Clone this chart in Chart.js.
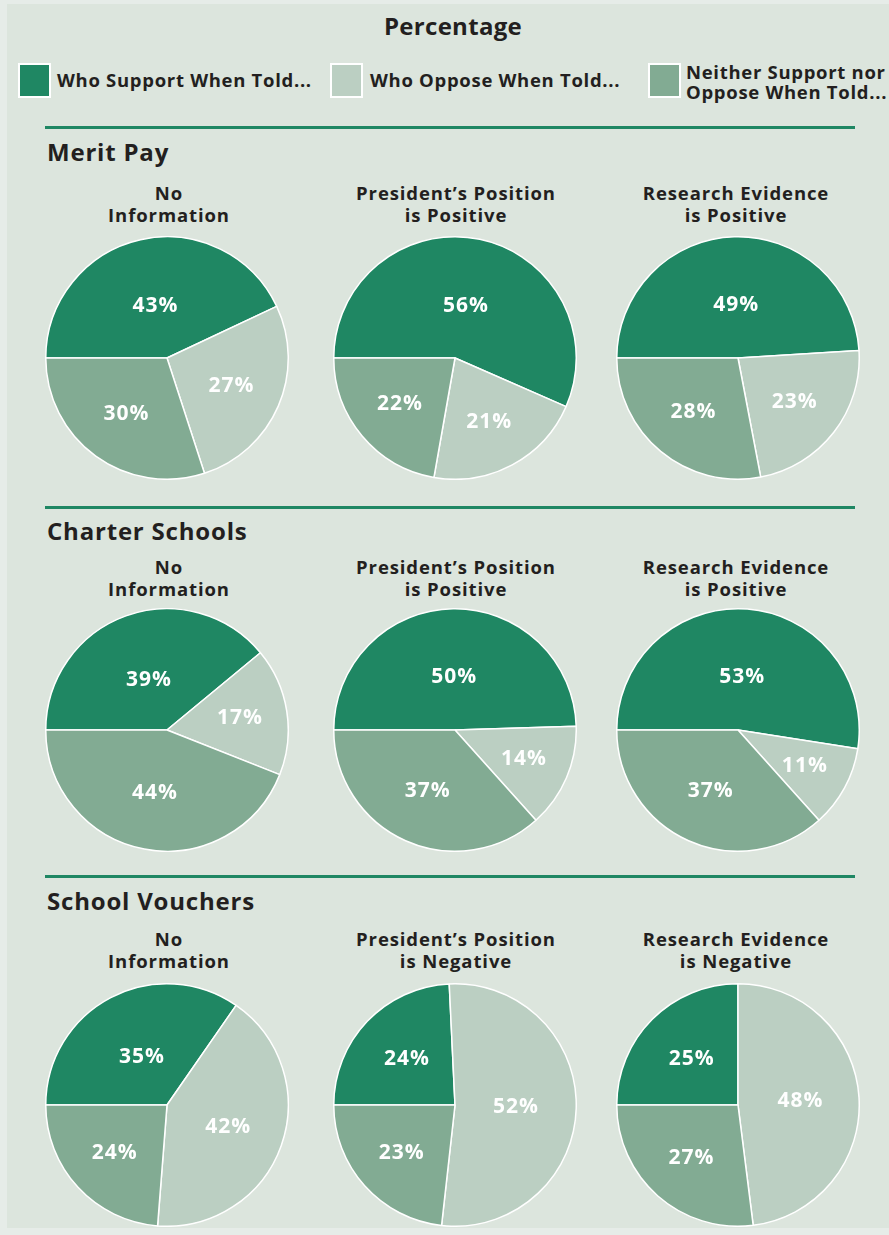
<!DOCTYPE html>
<html>
<head>
<meta charset="utf-8">
<script src="https://cdn.jsdelivr.net/npm/chart.js@4.4.1/dist/chart.umd.min.js"></script>
<style>
  html, body { margin: 0; padding: 0; }
  body { width: 889px; height: 1235px; background: #e6ece8; position: relative; overflow: hidden;
         font-family: "Open Sans", Roboto, sans-serif; color: #231f20; }
  #panel { position: absolute; left: 7px; top: 4px; width: 882px; height: 1224px; background: #dce5dd; }
  .abs { position: absolute; }
  .title { left: 0; width: 906px; text-align: center; font-weight: 700; font-size: 24px; line-height: 28px; top: 12px; letter-spacing: 0.3px; }
  .swatch { width: 29px; height: 31px; border: 2px solid #fff; }
  .legtext { font-weight: 700; font-size: 18.5px; line-height: 20px; white-space: pre; letter-spacing: 0.7px; }
  .rule { left: 45px; width: 810px; height: 3px; background: #1f8763; }
  .section { left: 47px; font-weight: 700; font-size: 24px; line-height: 28px; white-space: nowrap; letter-spacing: 0.8px; }
  .pietitle { width: 300px; text-align: center; font-weight: 700; font-size: 18.5px; line-height: 21.5px; white-space: pre; letter-spacing: 0.9px; }
</style>
</head>
<body>
<div id="panel"></div>
<script>
(() => {
  // ===== Data =====
  const seriesNames = ['Who Support When Told...', 'Who Oppose When Told...', 'Neither Support nor\nOppose When Told...'];
  const sectionNames = ['Merit Pay', 'Charter Schools', 'School Vouchers'];
  const meritTitles = ['No\nInformation', 'President\u2019s Position\nis Positive', 'Research Evidence\nis Positive'];
  const charterTitles = ['No\nInformation', 'President\u2019s Position\nis Positive', 'Research Evidence\nis Positive'];
  const voucherTitles = ['No\nInformation', 'President\u2019s Position\nis Negative', 'Research Evidence\nis Negative'];

  // support / oppose / neither, per pie (No info, President, Research)
  const meritSupport = [43, 56, 49];
  const meritOppose = [27, 21, 23];
  const meritNeither = [30, 22, 28];
  const charterSupport = [39, 50, 53];
  const charterOppose = [17, 14, 11];
  const charterNeither = [44, 37, 37];
  const voucherSupport = [35, 24, 25];
  const voucherOppose = [42, 52, 48];
  const voucherNeither = [24, 23, 27];

  const COLORS = ['#1f8763', '#bbcfc2', '#82ab93'];

  // ===== Layout =====
  const colX = [167, 455, 738];
  const rowY = [357.5, 730, 1105];
  const ruleY = [126, 506, 875];
  const sectionY = [138, 517, 887];
  const pieTitleY = [182, 556, 928];
  const titleX = [169, 456, 736];
  const R = 122;

  const body = document.body;
  const el = (cls, css, text) => {
    const d = document.createElement('div');
    d.className = 'abs ' + cls;
    Object.assign(d.style, css);
    if (text != null) d.textContent = text;
    body.appendChild(d);
    return d;
  };

  el('title', {}, 'Percentage');

  // legend
  const legX = [18, 330, 648];
  const legTextX = [57, 370, 686];
  seriesNames.forEach((name, i) => {
    el('swatch', { left: legX[i] + 'px', top: '63px', background: COLORS[i] });
    const two = name.includes('\n');
    el('legtext', { left: legTextX[i] + 'px', top: (two ? 62 : 70) + 'px' }, name);
  });

  const sections = [
    { name: sectionNames[0], titles: meritTitles, s: meritSupport, o: meritOppose, n: meritNeither },
    { name: sectionNames[1], titles: charterTitles, s: charterSupport, o: charterOppose, n: charterNeither },
    { name: sectionNames[2], titles: voucherTitles, s: voucherSupport, o: voucherOppose, n: voucherNeither }
  ];

  // white percent labels inside slices
  const sliceLabels = {
    id: 'sliceLabels',
    afterDatasetsDraw(chart) {
      const ctx = chart.ctx;
      const meta = chart.getDatasetMeta(0);
      const data = chart.data.datasets[0].data;
      const total = data.reduce((a, b) => a + b, 0);
      ctx.save();
      ctx.fillStyle = '#ffffff';
      ctx.font = '700 21px "Open Sans", sans-serif';
      ctx.letterSpacing = '1px';
      ctx.textAlign = 'center';
      ctx.textBaseline = 'middle';
      meta.data.forEach((arc, i) => {
        const p = arc.getProps(['x', 'y', 'startAngle', 'endAngle', 'outerRadius'], true);
        const mid = (p.startAngle + p.endAngle) / 2;
        const frac = data[i] / total;
        const k = i === 0 ? 0.44 + Math.max(0, 0.35 - frac) : 0.66 - 0.3 * frac;
        const d = p.outerRadius * k;
        ctx.fillText(data[i] + '%', p.x + Math.cos(mid) * d, p.y + Math.sin(mid) * d);
      });
      ctx.restore();
    }
  };

  sections.forEach((sec, r) => {
    el('rule', { top: ruleY[r] + 'px' });
    el('section', { top: sectionY[r] + 'px' }, sec.name);
    for (let c = 0; c < 3; c++) {
      el('pietitle', { left: (titleX[c] - 150) + 'px', top: pieTitleY[r] + 'px' }, sec.titles[c]);
      const cv = document.createElement('canvas');
      cv.width = R * 2; cv.height = R * 2;
      cv.className = 'abs';
      cv.style.left = (colX[c] - R) + 'px';
      cv.style.top = (rowY[r] - R) + 'px';
      cv.style.width = R * 2 + 'px';
      cv.style.height = R * 2 + 'px';
      body.appendChild(cv);
      new Chart(cv.getContext('2d'), {
        type: 'pie',
        data: {
          labels: ['Support', 'Oppose', 'Neither'],
          datasets: [{
            data: [sec.s[c], sec.o[c], sec.n[c]],
            backgroundColor: COLORS,
            borderColor: '#ffffff',
            borderWidth: 1.5
          }]
        },
        options: {
          responsive: false,
          animation: false,
          rotation: -90,
          layout: { padding: 0 },
          plugins: { legend: { display: false }, tooltip: { enabled: false } }
        },
        plugins: [sliceLabels]
      });
    }
  });
})();
</script>
</body>
</html>
